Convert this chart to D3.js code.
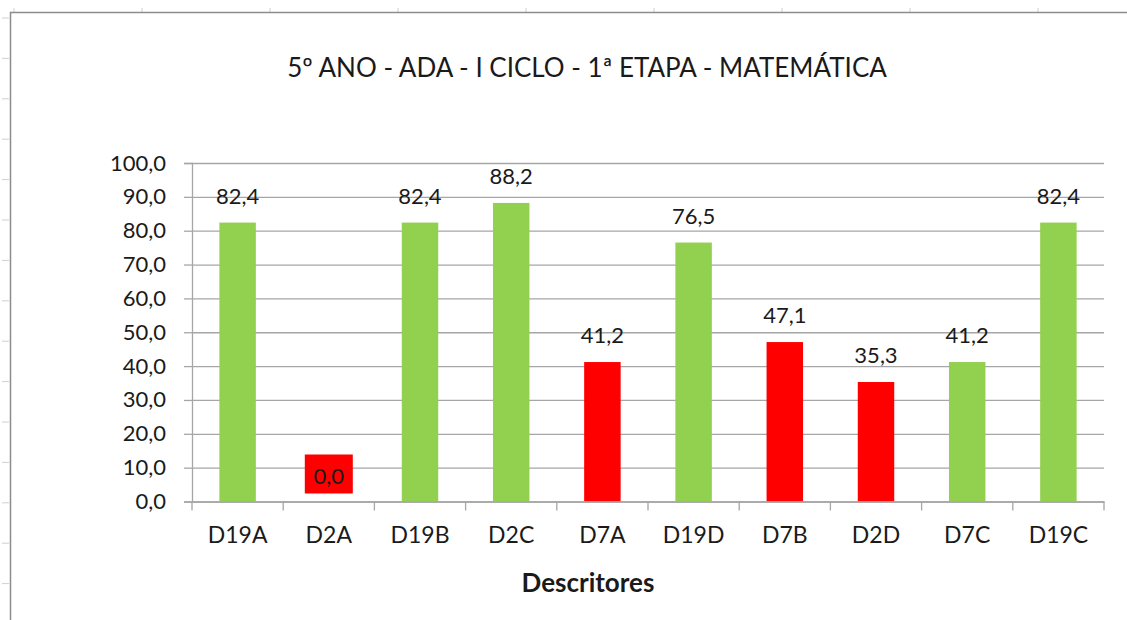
<!DOCTYPE html>
<html>
<head>
<meta charset="utf-8">
<script src="https://cdn.jsdelivr.net/npm/d3@7"></script>
<style>
  body { margin: 0; background: #fff; }
  text { font-family: Lato, "Open Sans", sans-serif; fill: #1a1a1a; }
</style>
</head>
<body>
<svg width="1127" height="620"></svg>
<script>
const categories = ['D19A', 'D2A', 'D19B', 'D2C', 'D7A', 'D19D', 'D7B', 'D2D', 'D7C', 'D19C'];
const values = [82.4, 0.0, 82.4, 88.2, 41.2, 76.5, 47.1, 35.3, 41.2, 82.4];
const status = ['ok', 'low', 'ok', 'ok', 'low', 'ok', 'low', 'low', 'ok', 'ok'];
const yTicks = [0, 10, 20, 30, 40, 50, 60, 70, 80, 90, 100];
const title = '5º ANO - ADA - I CICLO - 1ª ETAPA - MATEMÁTICA';
const xTitle = 'Descritores';

const data = categories.map((c, i) => ({ cat: c, value: values[i], status: status[i] }));

const svg = d3.select('svg');
const fmt = v => d3.format('.1f')(v).replace('.', ',');
const color = d3.scaleOrdinal().domain(['ok', 'low']).range(['#92d050', '#ff0000']);

// spreadsheet background ticks + chart frame
const sheet = svg.append('g');
sheet.selectAll('.vt').data(d3.range(14, 1127, 128))
  .enter().append('line')
    .attr('x1', d => d).attr('x2', d => d).attr('y1', 8).attr('y2', 12)
    .attr('stroke', '#d0d0d0');
sheet.selectAll('.ht').data(d3.range(18, 620, 40.4))
  .enter().append('line')
    .attr('x1', 2).attr('x2', 9).attr('y1', d => d).attr('y2', d => d)
    .attr('stroke', '#d0d0d0');
sheet.append('path')
  .attr('d', 'M10.5,620 V12.5 H1127')
  .attr('fill', 'none').attr('stroke', '#8c8c8c').attr('stroke-width', 1.5);

const margin = { left: 192, right: 1104, top: 163, bottom: 501.5 };

const x = d3.scaleBand().domain(categories).range([margin.left, margin.right]).paddingInner(0).paddingOuter(0);
const y = d3.scaleLinear().domain([0, 100]).range([margin.bottom, margin.top]);

// gridlines
const g = svg.append('g');
g.append('g')
  .attr('transform', `translate(${margin.left},0)`)
  .call(d3.axisLeft(y).tickValues(yTicks).tickSize(-(margin.right - margin.left)).tickFormat(''))
  .call(a => a.select('.domain').remove())
  .call(a => a.selectAll('line').attr('stroke', '#a6a6a6').attr('stroke-width', 1.3));

// y axis
g.append('g')
  .attr('transform', `translate(${margin.left},0)`)
  .call(d3.axisLeft(y).tickValues(yTicks).tickSize(8).tickPadding(18).tickFormat(fmt))
  .call(a => a.select('.domain').attr('stroke', '#a6a6a6').attr('stroke-width', 1.3))
  .call(a => a.selectAll('line').attr('stroke', '#a6a6a6').attr('stroke-width', 1.3))
  .call(a => a.selectAll('text').attr('font-size', 22).attr('font-family', 'Lato, sans-serif').attr('fill', '#1a1a1a'));

// bars
g.selectAll('.bar').data(data)
  .enter().append('rect')
    .attr('class', 'bar')
    .attr('x', d => x(d.cat) + x.bandwidth() * 0.3)
    .attr('width', x.bandwidth() * 0.4)
    .attr('y', d => y(d.value))
    .attr('height', d => y(0) - y(d.value))
    .attr('fill', d => color(d.status));

// x axis
g.append('g')
  .attr('transform', `translate(0,${margin.bottom})`)
  .call(d3.axisBottom(x).tickSize(0).tickPadding(25))
  .call(a => a.select('.domain').attr('stroke', '#a6a6a6').attr('stroke-width', 1.3))
  .call(a => a.selectAll('text').attr('font-size', 23).attr('font-family', 'Lato, sans-serif').attr('fill', '#1a1a1a'));
g.selectAll('.xtick').data(d3.range(categories.length + 1))
  .enter().append('line')
    .attr('x1', i => margin.left + i * x.step())
    .attr('x2', i => margin.left + i * x.step())
    .attr('y1', margin.bottom).attr('y2', margin.bottom + 9)
    .attr('stroke', '#a6a6a6').attr('stroke-width', 1.3);

// data labels
const labels = g.selectAll('.lbl').data(data).enter().append('g')
  .attr('transform', d => d.value > 0
    ? `translate(${x(d.cat) + x.bandwidth() / 2},${y(d.value) - 19})`
    : `translate(${x(d.cat) + x.bandwidth() / 2},${y(0) - 14})`);
labels.filter(d => d.value === 0).append('rect')
  .attr('x', -24).attr('y', -33).attr('width', 48).attr('height', 39)
  .attr('fill', d => color(d.status));
labels.append('text')
  .attr('text-anchor', 'middle')
  .attr('y', d => d.value === 0 ? -4 : 0)
  .attr('font-size', 22)
  .text(d => fmt(d.value));

// titles
svg.append('text')
  .attr('x', 587).attr('y', 77)
  .attr('text-anchor', 'middle')
  .attr('font-size', 26)
  .text(title);
svg.append('text')
  .attr('x', 588).attr('y', 592)
  .attr('text-anchor', 'middle')
  .attr('font-size', 26)
  .attr('font-weight', 'bold')
  .text(xTitle);
</script>
</body>
</html>
